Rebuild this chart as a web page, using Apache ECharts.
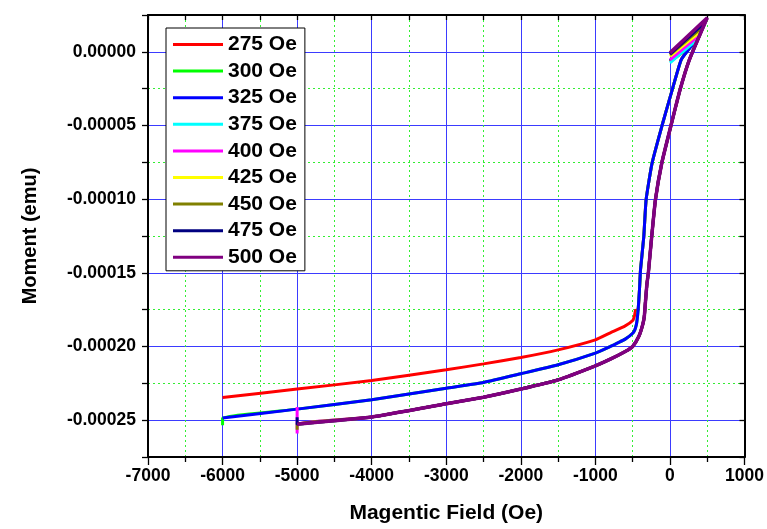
<!DOCTYPE html>
<html><head><meta charset="utf-8">
<script src="https://cdn.jsdelivr.net/npm/echarts@6/dist/echarts.min.js"></script>
<style>html,body{margin:0;padding:0;background:#fff}#c{width:767px;height:529px}</style>
</head><body><div id="c"></div>
<script>
// ---- data ----
const seriesNames = ['275 Oe','300 Oe','325 Oe','375 Oe','400 Oe','425 Oe','450 Oe','475 Oe','500 Oe'];
const seriesGroup = ['red','mid','mid','low','low','low','low','low','low'];

// ascending branch, 275 Oe curve
const redField  = [-6000,-5000,-4000,-3000,-2500,-2000,-1500,-1000,-800,-600,-500,-475,-462,-427,-409,-395,-351,-320,-240,-110,30,150];
const redMoment = [-0.0002346,-0.0002289,-0.0002231,-0.0002158,-0.0002118,-0.0002075,-0.0002023,-0.0001955,-0.0001907,-0.000186,-0.0001824,-0.000179,-0.0001755,-0.0001751,-0.0001615,-0.000148,-0.0001254,-0.0001004,-0.0000755,-0.0000507,-0.0000258,-0.0000054];

// ascending branch, 300 / 325 Oe curves
const midField  = [-6000,-5000,-4000,-3000,-2500,-2000,-1500,-1000,-800,-700,-600,-500,-470,-450,-441,-427,-409,-395,-351,-320,-240,-110,30,150,275];
const midMoment = [-0.0002486,-0.0002425,-0.0002362,-0.0002283,-0.0002244,-0.0002185,-0.0002124,-0.0002045,-0.0002,-0.0001975,-0.000195,-0.000191,-0.0001885,-0.000185,-0.000182,-0.0001751,-0.0001615,-0.000148,-0.0001254,-0.0001004,-0.0000755,-0.0000507,-0.0000258,-0.0000054,0.0000032];

// ascending branch, 375 ... 500 Oe curves
const lowField  = [-5000,-4000,-3000,-2500,-2000,-1500,-1000,-800,-600,-500,-418,-370,-345,-330,-310,-290,-245,-195,-110,10,135,260];
const lowMoment = [-0.0002527,-0.0002479,-0.0002389,-0.0002344,-0.0002289,-0.0002226,-0.0002131,-0.0002086,-0.0002034,-0.0002,-0.0001932,-0.000186,-0.00018,-0.0001706,-0.000158,-0.00015,-0.0001254,-0.0001004,-0.0000755,-0.0000507,-0.0000258,-0.0000054];

// turning point and return to zero field
const tipField   = [275,300,325,375,400,425,450,475,500];
const tipMoment  = [0.0000032,0.0000045,0.000006,0.0000088,0.0000117,0.0000145,0.0000174,0.0000202,0.0000231];
const zeroField  = [0,0,0,0,0,0,0,0,0];
const zeroMoment = [-0.0000065,-0.000006,-0.000006,-0.0000075,-0.0000055,-0.000003,-0.000002,-0.0000015,-0.0000007];

// start-up spikes
const startField  = [[],[-6000],[],[],[-5000,-5000],[],[-5000],[-5000],[]];
const startMoment = [[],[-0.0002535],[],[],[-0.000241,-0.000259],[],[-0.0002565],[-0.000248],[]];

// tick labels
const xTickLabels = ['-7000','-6000','-5000','-4000','-3000','-2000','-1000','0','1000'];
const yTickLabels = ['-0.00025','-0.00020','-0.00015','-0.00010','-0.00005','0.00000'];

// ---- styling ----
const seriesColors = ['#ff0000','#00ff00','#0000ff','#00ffff','#ff00ff','#ffff00','#808000','#000080','#800080'];
const FONT = '"Liberation Sans", Arial, sans-serif';
const groups = {red:[redField,redMoment], mid:[midField,midMoment], low:[lowField,lowMoment]};

const series = seriesNames.map((name,i)=>{
  const [F,M] = groups[seriesGroup[i]];
  const pts = [];
  startField[i].forEach((f,k)=>pts.push([f,startMoment[i][k]]));
  F.forEach((f,k)=>{ if (f < tipField[i]) pts.push([f,M[k]]); });
  pts.push([tipField[i],tipMoment[i]]);
  pts.push([zeroField[i],zeroMoment[i]]);
  return {
    name, type:'line', data:pts, symbol:'none', showSymbol:false, smooth:0.15,
    xAxisIndex:0, yAxisIndex:0, color:seriesColors[i],
    lineStyle:{width: i===8 ? 3.5 : 3, color:seriesColors[i]},
    emphasis:{disabled:true}, z:2+i
  };
});

const axisLineStyle = {color:'#000',width:2};
const tickStyle = {color:'#000',width:1.3};
const blue = '#3b3bff', green = '#33ee33';

const chart = echarts.init(document.getElementById('c'));
chart.setOption({
  animation:false,
  backgroundColor:'#ffffff',
  grid:{left:148,right:21,top:15,bottom:71,containLabel:false},
  legend:{
    orient:'vertical', left:166, top:28, padding:[6,8,3,7], itemGap:5.6,
    itemWidth:50, itemHeight:3, icon:'rect',
    backgroundColor:'#fff', borderColor:'#000', borderWidth:1, borderRadius:0,
    textStyle:{fontFamily:FONT,fontSize:21,fontWeight:'bold',color:'#000',lineHeight:21},
    data:seriesNames, selectedMode:false
  },
  xAxis:[
    {type:'value', position:'bottom', min:-7000, max:1000, interval:1000,
     name:'Magentic Field (Oe)', nameLocation:'middle', nameGap:46,
     nameTextStyle:{fontFamily:FONT,fontSize:21,fontWeight:'bold',color:'#000'},
     axisLine:{show:true,onZero:false,lineStyle:axisLineStyle},
     axisTick:{show:true,inside:false,length:8,lineStyle:tickStyle},
     minorTick:{show:true,splitNumber:2,length:5,lineStyle:tickStyle},
     axisLabel:{show:true,fontFamily:FONT,fontSize:17.5,fontWeight:'bold',color:'#000',margin:10,
       formatter:(v)=>{const k=Math.round((v+7000)/1000);return xTickLabels[k]??'';}},
     splitLine:{show:true,lineStyle:{color:blue,width:1,type:'solid'}},
     minorSplitLine:{show:true,lineStyle:{color:green,width:1,type:[2,3]}}
    },
    {type:'value', position:'top', min:-7000, max:1000, interval:500,
     axisLine:{show:true,onZero:false,lineStyle:axisLineStyle},
     axisTick:{show:true,inside:true,length:5,lineStyle:tickStyle},
     axisLabel:{show:false}, splitLine:{show:false}
    }
  ],
  yAxis:[
    {type:'value', position:'left', min:-0.000275, max:0.000025, interval:0.000025,
     name:'Moment (emu)', nameLocation:'middle', nameGap:108,
     nameTextStyle:{fontFamily:FONT,fontSize:20,fontWeight:'bold',color:'#000'},
     axisLine:{show:true,onZero:false,lineStyle:axisLineStyle},
     axisTick:{show:true,inside:false,length:6,lineStyle:tickStyle},
     axisLabel:{show:true,fontFamily:FONT,fontSize:17.5,fontWeight:'bold',color:'#000',margin:12,
       formatter:(v)=>{const k=Math.round((v+0.000275)/0.000025); if(k%2===0) return ''; return yTickLabels[(k-1)/2]??'';}},
     splitLine:{show:true,lineStyle:{color:['rgba(0,0,0,0)',blue],width:1,type:'solid'}}
    },
    {type:'value', position:'right', min:-0.000275, max:0.000025, interval:0.000025,
     axisLine:{show:true,onZero:false,lineStyle:axisLineStyle},
     axisTick:{show:true,inside:true,length:5,lineStyle:tickStyle},
     axisLabel:{show:false},
     splitLine:{show:true,lineStyle:{color:[green,'rgba(0,0,0,0)'],width:1,type:[2,3]}}
    }
  ],
  series
});
</script>
</body></html>
